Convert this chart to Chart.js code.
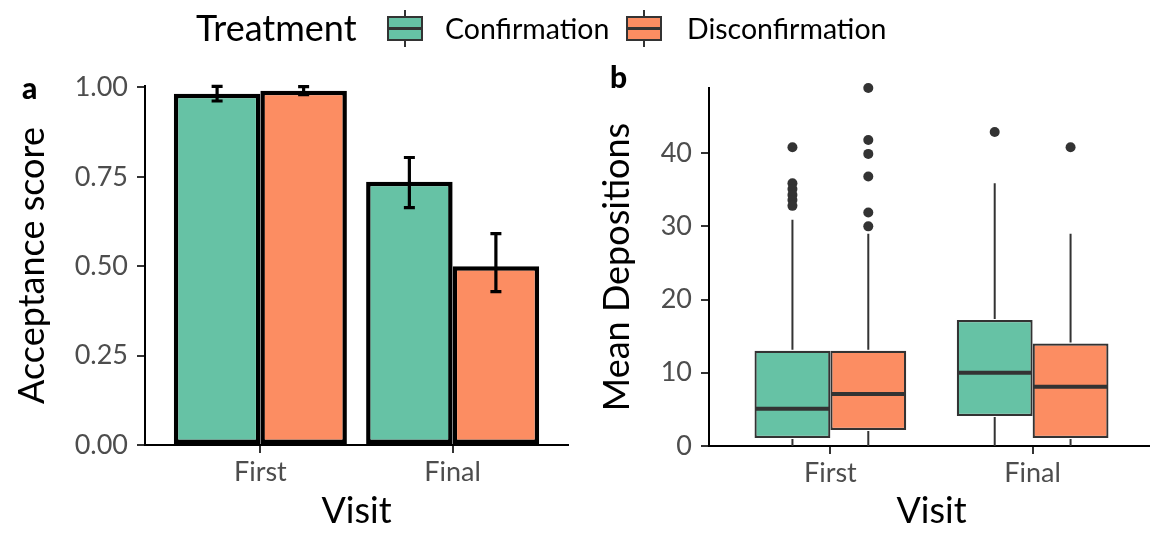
<!DOCTYPE html>
<html><head><meta charset="utf-8">
<script src="https://cdn.jsdelivr.net/npm/chart.js@4.4.0/dist/chart.umd.min.js"></script>
<style>
body{margin:0;width:1150px;height:534px;overflow:hidden;background:#fff;font-family:Lato,sans-serif;position:relative}
canvas{position:absolute;top:0}
.t{position:absolute;white-space:nowrap;color:#000}
.g{position:absolute;top:0;width:36px;height:58px}
.g .w{position:absolute;left:17px;top:10px;width:2px;height:37px;background:#333}
.g .b{position:absolute;left:0;top:16px;width:32px;height:21px;border:2px solid #333}
.g .m{position:absolute;left:0;top:27px;width:36px;height:3px;background:#333}
</style></head>
<body>
<canvas id="c1" width="575" height="534" style="left:0"></canvas>
<canvas id="c2" width="574" height="534" style="left:580px"></canvas>
<div class="t" style="left:196px;top:6px;font-size:36px;line-height:42px">Treatment</div>
<div class="g" style="left:387px"><div class="w"></div><div class="b" style="background:#66C2A5"></div><div class="m"></div></div>
<div class="t" style="left:445px;top:11px;font-size:28.5px;line-height:34px">Confirmation</div>
<div class="g" style="left:626px"><div class="w"></div><div class="b" style="background:#FC8D62"></div><div class="m"></div></div>
<div class="t" style="left:687px;top:11px;font-size:28.5px;line-height:34px">Disconfirmation</div>
<div class="t" style="left:22px;top:69px;font-size:30px;line-height:36px;font-weight:900">a</div>
<div class="t" style="left:610px;top:58px;font-size:30px;line-height:36px;font-weight:900">b</div>
<script>
// ---- data ----
const visits = ['First', 'Final'];
const treatments = ['Confirmation', 'Disconfirmation'];
const accConf = [0.982, 0.736];
const accDisc = [0.991, 0.500];
const accConfLo = [0.962, 0.664];
const accConfHi = [1.003, 0.804];
const accDiscLo = [0.980, 0.429];
const accDiscHi = [1.002, 0.591];
const accTicks = [0, 0.25, 0.5, 0.75, 1.0];

const confLo = [0, 0];
const confQ1 = [1.1, 4.1];
const confMed = [5.1, 10.0];
const confQ3 = [13.0, 17.2];
const confHi = [30.9, 35.9];
const confOut = [[40.8, 35.9, 35.1, 34.3, 33.6, 32.8], [42.9]];
const discLo = [0, 0];
const discQ1 = [2.2, 1.1];
const discMed = [7.1, 8.1];
const discQ3 = [13.0, 14.0];
const discHi = [29.0, 29.0];
const discOut = [[48.9, 41.8, 39.9, 36.8, 31.9, 30.0], [40.8]];
const depTicks = [0, 10, 20, 30, 40];

// ---- styles ----
const COL = ['#66C2A5', '#FC8D62'];
const FONT = 'Lato';
const tickFont = {family: FONT, size: 27};
const titleFont = {family: FONT, size: 36};
const xPos = visits.map((v, i) => i + 1);

function xScale(h) {
  return {
    type: 'linear', min: 0.4, max: 2.6, offset: false,
    afterBuildTicks: s => { s.ticks = xPos.map(v => ({value: v})); },
    afterFit: s => { s.height = h; },
    ticks: {callback: v => visits[v - 1], font: tickFont, color: '#4D4D4D', padding: 3, autoSkip: false, maxRotation: 0},
    grid: {display: true, drawOnChartArea: false, drawTicks: true, tickLength: 8, color: '#333', lineWidth: 2, offset: false},
    border: {display: true, color: '#000', width: 2},
    title: {display: true, text: 'Visit', font: titleFont, color: '#000', padding: {top: 0, bottom: 1}}
  };
}

const errPlugin = {
  id: 'err',
  afterDatasetsDraw(chart) {
    const ctx = chart.ctx, y = chart.scales.y;
    const lo = [accConfLo, accDiscLo], hi = [accConfHi, accDiscHi];
    ctx.save();
    ctx.strokeStyle = '#000'; ctx.lineWidth = 3.2; ctx.lineCap = 'butt';
    chart.data.datasets.forEach((ds, i) => {
      chart.getDatasetMeta(i).data.forEach((el, j) => {
        const x = el.x, y1 = y.getPixelForValue(lo[i][j]), y2 = y.getPixelForValue(hi[i][j]);
        ctx.beginPath();
        ctx.moveTo(x, y1); ctx.lineTo(x, y2);
        ctx.moveTo(x - 5.5, y1); ctx.lineTo(x + 5.5, y1);
        ctx.moveTo(x - 5.5, y2); ctx.lineTo(x + 5.5, y2);
        ctx.stroke();
      });
    });
    ctx.restore();
  }
};

new Chart(document.getElementById('c1'), {
  type: 'bar',
  data: {
    datasets: [
      {label: treatments[0], data: xPos.map((x, i) => ({x, y: accConf[i]})), backgroundColor: COL[0]},
      {label: treatments[1], data: xPos.map((x, i) => ({x, y: accDisc[i]})), backgroundColor: COL[1]}
    ].map(d => Object.assign(d, {borderColor: '#000', borderWidth: 4.5, borderSkipped: false, categoryPercentage: 0.9, barPercentage: 1.0}))
  },
  options: {
    responsive: false, animation: false, devicePixelRatio: 1,
    layout: {padding: {top: 86, right: 7, left: 0, bottom: 0}},
    plugins: {legend: {display: false}, tooltip: {enabled: false}},
    scales: {
      x: xScale(89),
      y: {
        min: 0, max: 1.004,
        afterBuildTicks: s => { s.ticks = accTicks.map(v => ({value: v})); },
        afterFit: s => { s.width = 145; },
        ticks: {callback: v => v.toFixed(2), font: tickFont, color: '#4D4D4D', padding: 9},
        grid: {display: true, drawOnChartArea: false, drawTicks: true, tickLength: 8, color: '#333', lineWidth: 2},
        border: {display: true, color: '#000', width: 2},
        title: {display: true, text: 'Acceptance score', font: titleFont, color: '#000', padding: {top: 11, bottom: 0}}
      }
    }
  },
  plugins: [errPlugin]
});

const boxPlugin = {
  id: 'box',
  afterDatasetsDraw(chart) {
    const ctx = chart.ctx, y = chart.scales.y;
    const lo = [confLo, discLo], q1 = [confQ1, discQ1], q3 = [confQ3, discQ3], hi = [confHi, discHi], med = [confMed, discMed], out = [confOut, discOut];
    ctx.save();
    chart.data.datasets.forEach((ds, i) => {
      chart.getDatasetMeta(i).data.forEach((el, j) => {
        const x = el.x, hw = el.width / 2;
        ctx.strokeStyle = '#333'; ctx.lineWidth = 2;
        ctx.beginPath();
        ctx.moveTo(x, y.getPixelForValue(q3[i][j]) - 1); ctx.lineTo(x, y.getPixelForValue(hi[i][j]));
        ctx.moveTo(x, y.getPixelForValue(q1[i][j]) + 1); ctx.lineTo(x, y.getPixelForValue(lo[i][j]));
        ctx.stroke();
        ctx.lineWidth = 4;
        const ym = y.getPixelForValue(med[i][j]);
        ctx.beginPath(); ctx.moveTo(x - hw + 1, ym); ctx.lineTo(x + hw - 1, ym); ctx.stroke();
        ctx.fillStyle = '#333';
        out[i][j].forEach(v => {
          ctx.beginPath(); ctx.arc(x, y.getPixelForValue(v), 5, 0, Math.PI * 2); ctx.fill();
        });
      });
    });
    ctx.restore();
  }
};

new Chart(document.getElementById('c2'), {
  type: 'bar',
  data: {
    datasets: [
      {label: treatments[0], data: xPos.map((x, i) => ({x, y: [confQ1[i], confQ3[i]]})), backgroundColor: COL[0]},
      {label: treatments[1], data: xPos.map((x, i) => ({x, y: [discQ1[i], discQ3[i]]})), backgroundColor: COL[1]}
    ].map(d => Object.assign(d, {borderColor: '#333', borderWidth: 2.2, borderSkipped: false, categoryPercentage: 0.75, barPercentage: 1.0}))
  },
  options: {
    responsive: false, animation: false, devicePixelRatio: 1,
    layout: {padding: {top: 88, right: 0, left: 0, bottom: 0}},
    plugins: {legend: {display: false}, tooltip: {enabled: false}},
    scales: {
      x: xScale(88),
      y: {
        min: 0, max: 48.9,
        afterBuildTicks: s => { s.ticks = depTicks.map(v => ({value: v})); },
        afterFit: s => { s.width = 129; },
        ticks: {font: tickFont, color: '#4D4D4D', padding: 9},
        grid: {display: true, drawOnChartArea: false, drawTicks: true, tickLength: 8, color: '#333', lineWidth: 2},
        border: {display: true, color: '#000', width: 2},
        title: {display: true, text: 'Mean Depositions', font: titleFont, color: '#000', padding: {top: 16, bottom: 0}}
      }
    }
  },
  plugins: [boxPlugin]
});
</script>
</body></html>
